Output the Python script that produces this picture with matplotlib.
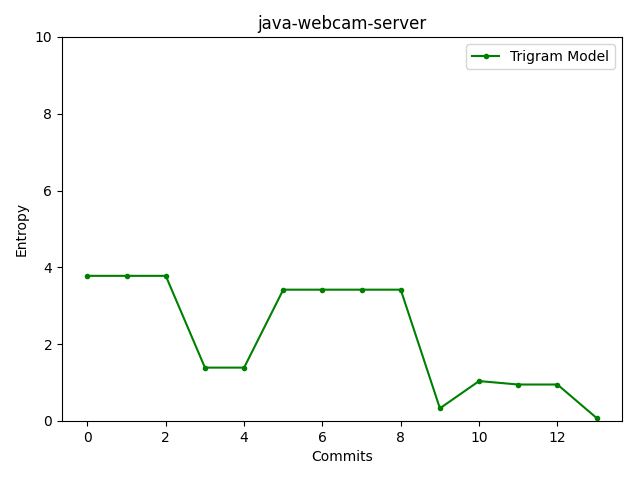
import numpy as np
import matplotlib
matplotlib.use('Agg')
import matplotlib.pyplot as plt

commits = list(range(14))
entropy = [3.78, 3.78, 3.78, 1.39, 1.39, 3.42, 3.42, 3.42, 3.42, 0.33, 1.04, 0.95, 0.95, 0.08]

fig = plt.figure(figsize=(6.4, 4.8), dpi=100)
plt.plot(commits, entropy, marker='.', color='green', label='Trigram Model')
plt.ylim(0, 10)
plt.title('java-webcam-server')
plt.xlabel('Commits')
plt.ylabel('Entropy')
plt.legend(loc='upper right')
plt.subplots_adjust(left=62 / 640, right=622 / 640, top=1 - 37 / 480, bottom=1 - 421 / 480)
plt.savefig('out.png')
plt.close(fig)
